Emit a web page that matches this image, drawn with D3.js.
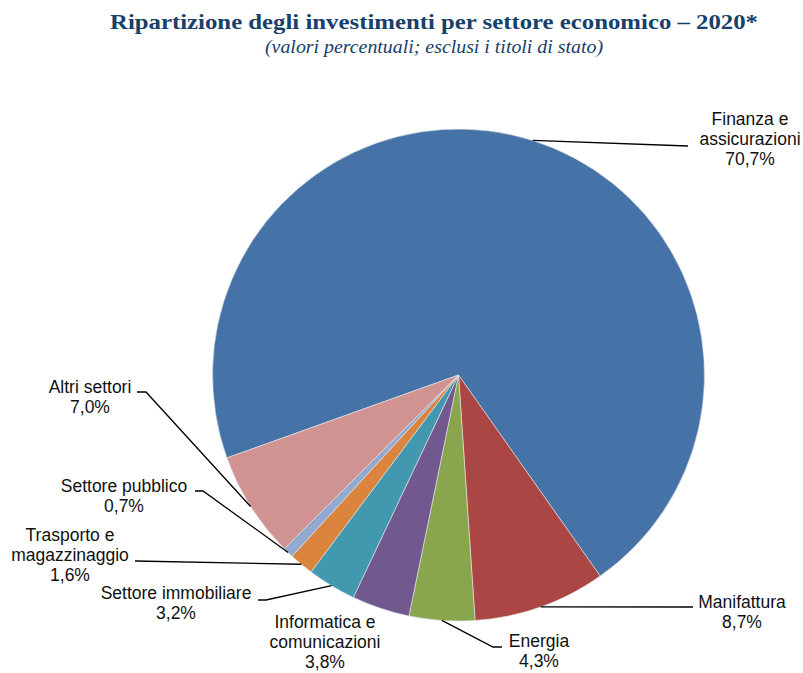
<!DOCTYPE html>
<html>
<head>
<meta charset="utf-8">
<script src="https://cdn.jsdelivr.net/npm/d3@7"></script>
<style>
  html, body { margin: 0; padding: 0; background: #fff; }
  svg { display: block; }
</style>
</head>
<body>
<svg id="chart" width="803" height="673"></svg>
<script>
// Sectors, in drawing order (clockwise), with their shares in percent
const sectors = [
  "Finanza e assicurazioni",
  "Manifattura",
  "Energia",
  "Informatica e comunicazioni",
  "Settore immobiliare",
  "Trasporto e magazzinaggio",
  "Settore pubblico",
  "Altri settori"
];
const shares = [70.7, 8.7, 4.3, 3.8, 3.2, 1.6, 0.7, 7.0];
const shareLabels = ["70,7%", "8,7%", "4,3%", "3,8%", "3,2%", "1,6%", "0,7%", "7,0%"];
const sliceColors = ["#4673A7", "#AA4744", "#89A54E", "#71588F", "#4198AF", "#DB843D", "#93A9CF", "#D09392"];

// Label layout: text lines, centre x, first-line y, and leader elbow points
const labelLayout = [
  { lines: ["Finanza e", "assicurazioni"], cx: 750, y: 125, path: [[688, 146]] },
  { lines: ["Manifattura"], cx: 742, y: 608, path: [[693, 607]] },
  { lines: ["Energia"], cx: 539, y: 647, path: [[493, 647], [502, 647]] },
  { lines: ["Informatica e", "comunicazioni"], cx: 325, y: 628, path: null },
  { lines: ["Settore immobiliare"], cx: 176, y: 599, path: [[266, 600], [258, 600]] },
  { lines: ["Trasporto e", "magazzinaggio"], cx: 70, y: 541, path: [[135, 561]] },
  { lines: ["Settore pubblico"], cx: 124, y: 492, path: [[203, 491], [195, 491]] },
  { lines: ["Altri settori"], cx: 90, y: 393, path: [[146, 392], [137, 392]] }
];

const svg = d3.select("#chart");
const cx = 458.5, cy = 375, radius = 246;
const lineH = 20;

// Title and subtitle
svg.append("text")
  .attr("x", 434).attr("y", 29)
  .attr("text-anchor", "middle")
  .attr("font-family", "'Liberation Serif', 'DejaVu Serif', serif")
  .attr("font-weight", "bold")
  .attr("font-size", 22)
  .attr("fill", "#17406A")
  .attr("textLength", 648)
  .attr("lengthAdjust", "spacingAndGlyphs")
  .text("Ripartizione degli investimenti per settore economico – 2020*");

svg.append("text")
  .attr("x", 434).attr("y", 53)
  .attr("text-anchor", "middle")
  .attr("font-family", "'Liberation Serif', 'DejaVu Serif', serif")
  .attr("font-style", "italic")
  .attr("font-size", 19)
  .attr("fill", "#17406A")
  .attr("textLength", 338)
  .attr("lengthAdjust", "spacingAndGlyphs")
  .text("(valori percentuali; esclusi i titoli di stato)");

// Pie
const startDeg = -109.7;
const pie = d3.pie()
  .sort(null)
  .value(d => d.value)
  .startAngle(startDeg * Math.PI / 180)
  .endAngle(startDeg * Math.PI / 180 + 2 * Math.PI);

const data = sectors.map((s, i) => ({ name: s, value: shares[i], color: sliceColors[i], label: shareLabels[i], layout: labelLayout[i] }));
const arcs = pie(data);
const arc = d3.arc().innerRadius(0).outerRadius(radius);

const g = svg.append("g").attr("transform", `translate(${cx},${cy})`);
g.selectAll("path.slice")
  .data(arcs)
  .join("path")
  .attr("class", "slice")
  .attr("d", arc)
  .attr("fill", d => d.data.color)
  .attr("stroke", "#e8e8e8")
  .attr("stroke-width", 0.6);

// Leader lines from the slice edge at mid-angle
const edgePoint = d => {
  const a = (d.startAngle + d.endAngle) / 2;
  return [cx + radius * Math.sin(a), cy - radius * Math.cos(a)];
};

svg.append("g").selectAll("path.leader")
  .data(arcs.filter(d => d.data.layout.path))
  .join("path")
  .attr("class", "leader")
  .attr("d", d => d3.line()([edgePoint(d), ...d.data.layout.path]))
  .attr("fill", "none")
  .attr("stroke", "#000")
  .attr("stroke-width", 1.3);

// Labels
const labels = svg.append("g")
  .attr("font-family", "'Liberation Sans', Arial, sans-serif")
  .attr("font-size", 17.5)
  .attr("fill", "#111")
  .attr("text-anchor", "middle");

arcs.forEach(d => {
  const L = d.data.layout;
  const t = labels.append("text").attr("x", L.cx).attr("y", L.y);
  [...L.lines, d.data.label].forEach((line, i) => {
    t.append("tspan").attr("x", L.cx).attr("dy", i === 0 ? 0 : lineH).text(line);
  });
});
</script>
</body>
</html>
